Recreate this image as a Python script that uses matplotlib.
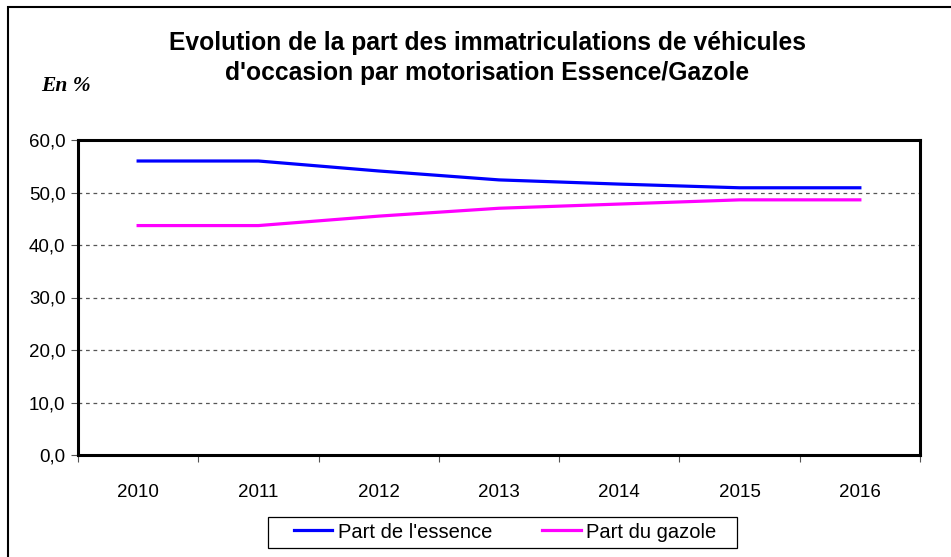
import matplotlib.pyplot as plt
from matplotlib.patches import Rectangle

years = ['2010', '2011', '2012', '2013', '2014', '2015', '2016']
essence = [56.0, 56.0, 54.1, 52.4, 51.6, 50.9, 50.9]
gazole = [43.7, 43.7, 45.5, 47.0, 47.8, 48.6, 48.6]

plt.rcParams['font.family'] = ['Liberation Sans', 'DejaVu Sans']

W, H = 951, 557
fig = plt.figure(figsize=(W / 100, H / 100), dpi=100)
ax = fig.add_axes([78 / W, 1 - 455 / H, (920 - 78) / W, (455 - 140) / H])

# outer chart frame (cut off at right/bottom like the reference)
fig.patches.append(Rectangle((8 / W, -0.1), 1.1, 1 - 7 / H + 0.1,
                             transform=fig.transFigure, fill=False,
                             edgecolor='black', lw=1.5))

x = range(len(years))
ax.plot(x, essence, color='#0000ff', lw=2.3, label="Part de l'essence")
ax.plot(x, gazole, color='#ff00ff', lw=2.3, label='Part du gazole')

ax.set_xlim(-0.5, len(years) - 0.5)
ax.set_ylim(0, 60)
ax.set_yticks(range(0, 61, 10))
ax.set_yticklabels([f'{v},0' for v in range(0, 61, 10)], fontsize=13.5)
ax.set_xticks(list(x))
ax.set_xticklabels(years, fontsize=13.5)
ax.set_xticks([i - 0.5 for i in range(len(years) + 1)], minor=True)
ax.tick_params(axis='x', which='major', length=0, pad=21)
ax.tick_params(axis='x', which='minor', length=5, width=0.8, color='#555555')
ax.tick_params(axis='y', length=5, width=0.8, color='#555555', pad=4)

for v in range(10, 60, 10):
    ax.axhline(v, color='#555555', lw=0.9, ls=(0, (3, 3)), zorder=0)

for s in ax.spines.values():
    s.set_linewidth(2.2)

fig.text(487 / W, 1 - 58 / H, "Evolution de la part des immatriculations de véhicules\n"
         "d'occasion par motorisation Essence/Gazole",
         ha='center', va='center', fontsize=17.7, fontweight='bold', linespacing=1.36)
fig.text(41 / W, 1 - 86 / H, 'En %', ha='left', va='center', fontsize=15.5,
         fontweight='bold', style='italic', family=['Liberation Serif', 'DejaVu Serif'])

# legend box drawn separately so the padding matches
fig.patches.append(Rectangle((268 / W, 1 - 548 / H), (737 - 268) / W, 31 / H,
                             transform=fig.transFigure, fill=False,
                             edgecolor='black', lw=0.9))
fig.legend(loc='center', bbox_to_anchor=(505 / W, 1 - 532 / H), ncol=2,
           fontsize=14.5, frameon=False, handlelength=1.9, handletextpad=0.25,
           columnspacing=2.5, borderpad=0)

fig.savefig('out.png', dpi=100)
